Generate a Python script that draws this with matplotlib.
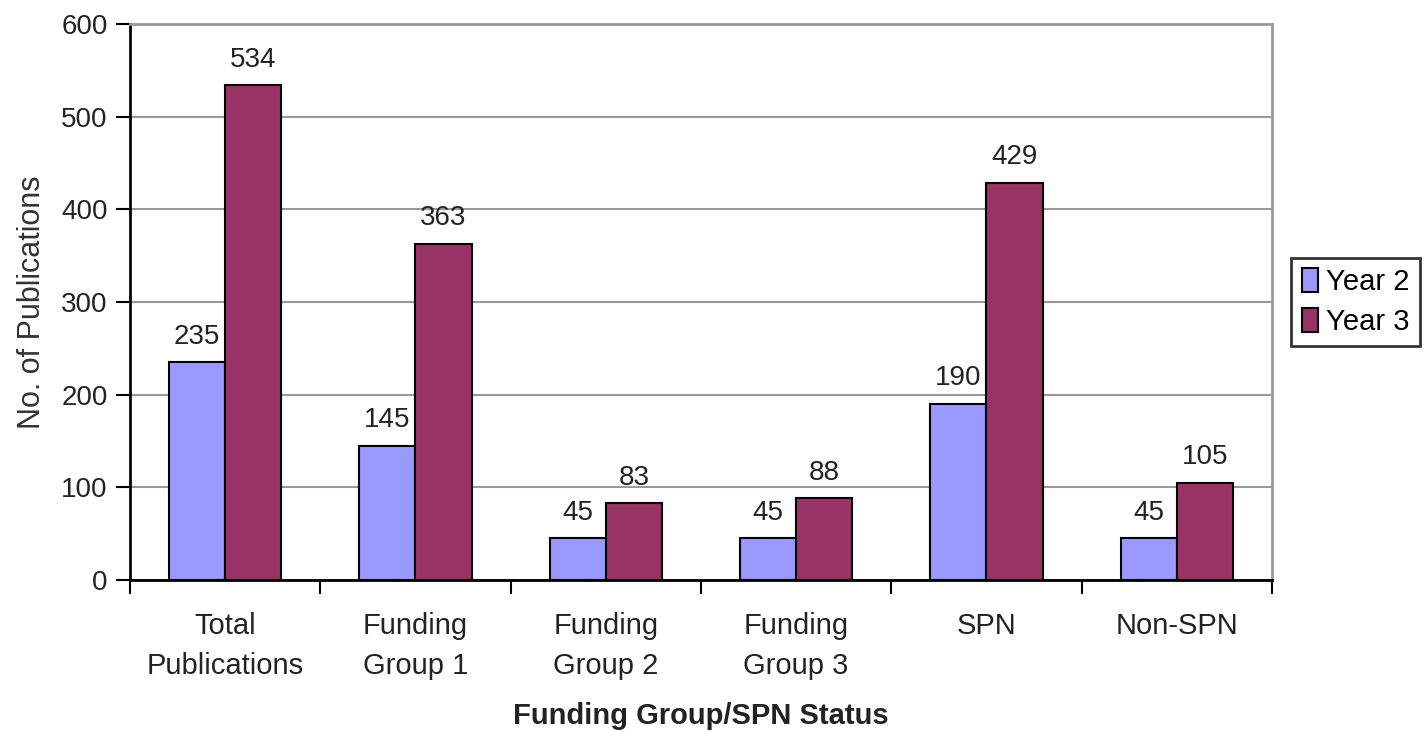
import matplotlib.pyplot as plt
import numpy as np

plt.rcParams['font.family'] = ['Liberation Sans', 'DejaVu Sans']

categorias = ['Total\nPublications', 'Funding\nGroup 1', 'Funding\nGroup 2',
              'Funding\nGroup 3', 'SPN', 'Non-SPN']
ano2 = [235, 145, 45, 45, 190, 45]
ano3 = [534, 363, 83, 88, 429, 105]

fig = plt.figure(figsize=(14.25, 7.31), dpi=100)
ax = fig.add_axes([0.0912, 0.2066, 0.8014, 0.7604])

x = np.arange(len(categorias))
w = 0.295
b2 = ax.bar(x - w / 2, ano2, w, color='#9999FF', edgecolor='black', linewidth=1.5, label='Year 2', zorder=3)
b3 = ax.bar(x + w / 2, ano3, w, color='#993366', edgecolor='black', linewidth=1.5, label='Year 3', zorder=3)

for barras in (b2, b3):
    for b in barras:
        ax.annotate(str(int(b.get_height())), (b.get_x() + b.get_width() / 2, b.get_height()),
                    xytext=(0, 9), textcoords='offset points', ha='center', va='bottom',
                    fontsize=20, color='#222222')

ax.set_xlim(-0.5, len(categorias) - 0.5)
ax.set_ylim(0, 600)
ax.set_yticks(range(0, 601, 100))
ax.yaxis.grid(True, color='#999999', linewidth=1.5, zorder=0)
ax.set_xticks(x)
ax.set_xticklabels(categorias, fontsize=21, color='#222222', linespacing=1.55)
ax.set_xticks(np.arange(-0.5, len(categorias), 1), minor=True)
ax.tick_params(axis='x', which='major', length=0, pad=23)
ax.tick_params(axis='x', which='minor', length=10, width=1.5, direction='out')
ax.tick_params(axis='y', length=10, width=1.5, direction='out', labelsize=20, labelcolor='#222222', pad=6)

for lado in ('top', 'right'):
    ax.spines[lado].set_color('#999999')
    ax.spines[lado].set_linewidth(2)
for lado in ('left', 'bottom'):
    ax.spines[lado].set_color('black')
    ax.spines[lado].set_linewidth(2)

ax.set_xlabel('Funding Group/SPN Status', fontsize=21, fontweight='bold', color='#222222', labelpad=16)
ax.set_ylabel('No. of Publications', fontsize=22, color='#333333', labelpad=10)

leg = ax.legend(loc='center left', bbox_to_anchor=(1.017, 0.5), fontsize=21, frameon=True,
                fancybox=False, edgecolor='black', handlelength=0.55, handleheight=0.9,
                handletextpad=0.3, borderpad=0.35, labelspacing=0.4, borderaxespad=0)
leg.get_frame().set_linewidth(2)

fig.savefig('out.png', dpi=100)
